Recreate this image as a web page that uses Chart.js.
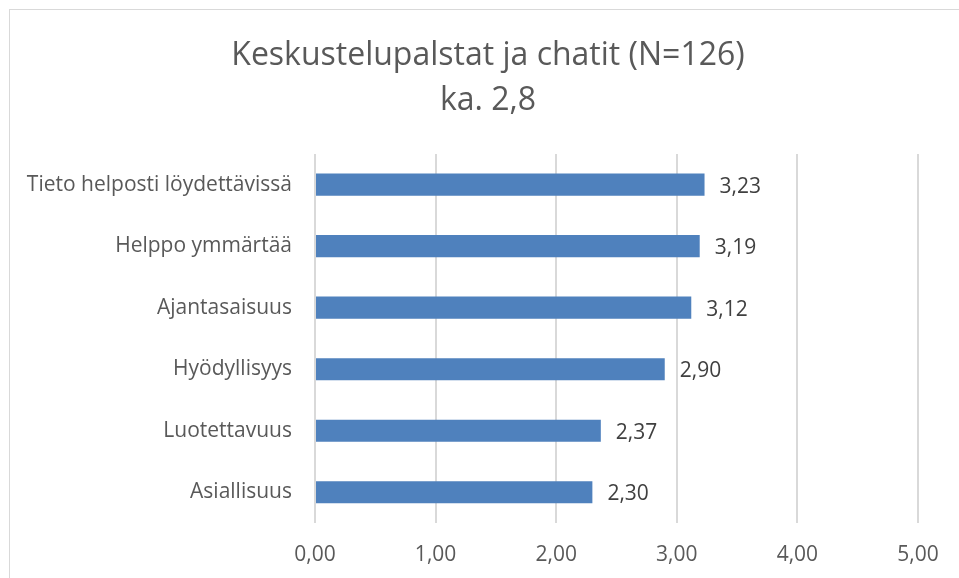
<!DOCTYPE html>
<html>
<head>
<meta charset="utf-8">
<script src="https://cdn.jsdelivr.net/npm/chart.js@4.4.1/dist/chart.umd.min.js"></script>
<style>
  html, body { margin: 0; padding: 0; background: #fff; }
  #wrap { position: absolute; left: 0; top: 0; width: 959px; height: 578px; }
  #frame { position: absolute; left: 9px; top: 9px; width: 960px; height: 580px; border: 1px solid #D9D9D9; box-sizing: border-box; }
</style>
</head>
<body>
<div id="wrap">
  <div id="frame"></div>
  <canvas id="chart" width="959" height="578"></canvas>
</div>
<script>
const titleLines = ['Keskustelupalstat ja chatit (N=126)', 'ka. 2,8'];
const categories = ['Tieto helposti löydettävissä', 'Helppo ymmärtää', 'Ajantasaisuus', 'Hyödyllisyys', 'Luotettavuus', 'Asiallisuus'];
const values = [3.23, 3.19, 3.12, 2.90, 2.37, 2.30];
const xMin = 0, xMax = 5, xStep = 1;

const fmt = v => v.toFixed(2).replace('.', ',');
const FONT = '"Open Sans", sans-serif';

// arvot palkkien perään
const valueLabels = {
    id: 'valueLabels',
    afterDatasetsDraw(chart) {
        const ctx = chart.ctx;
        const meta = chart.getDatasetMeta(0);
        ctx.save();
        ctx.font = '21px ' + FONT;
        ctx.fillStyle = '#404040';
        ctx.textAlign = 'left';
        ctx.textBaseline = 'middle';
        meta.data.forEach((bar, i) => {
            ctx.fillText(fmt(values[i]), bar.x + 15, bar.y + 2);
        });
        ctx.restore();
    }
};

// y-akselin nimiöt leikataan muuten vasemman täytteen kohdalta
const unclipY = {
    id: 'unclipY',
    afterLayout(chart) {
        chart.scales.y.left = 0;
    }
};

const ctx = document.getElementById('chart').getContext('2d');
new Chart(ctx, {
    type: 'bar',
    data: {
        labels: categories,
        datasets: [{
            data: values,
            backgroundColor: '#4F81BD',
            borderWidth: 0,
            categoryPercentage: 1,
            barPercentage: 0.36
        }]
    },
    options: {
        indexAxis: 'y',
        responsive: false,
        animation: false,
        // vasen täyte keskittää otsikon kehyksen mukaan
        layout: { padding: { left: 58, right: 41, top: 33, bottom: 0 } },
        plugins: {
            legend: { display: false },
            tooltip: { enabled: false },
            title: {
                display: true,
                text: titleLines,
                color: '#595959',
                font: { family: FONT, size: 32, weight: 'normal', lineHeight: 1.42 },
                padding: { top: 0, bottom: 30 }
            }
        },
        scales: {
            x: {
                min: xMin,
                max: xMax,
                grid: { color: '#D9D9D9', lineWidth: 2, drawTicks: false },
                border: { display: false },
                ticks: {
                    stepSize: xStep,
                    padding: 19,
                    color: '#595959',
                    font: { family: FONT, size: 21 },
                    callback: v => fmt(v)
                },
                afterFit(scale) { scale.height = 55; }
            },
            y: {
                grid: { display: false, drawTicks: false },
                border: { display: false },
                ticks: {
                    padding: 23,
                    color: '#595959',
                    font: { family: FONT, size: 21 }
                },
                afterFit(scale) { scale.width = 257; }
            }
        }
    },
    plugins: [valueLabels, unclipY]
});
</script>
</body>
</html>
